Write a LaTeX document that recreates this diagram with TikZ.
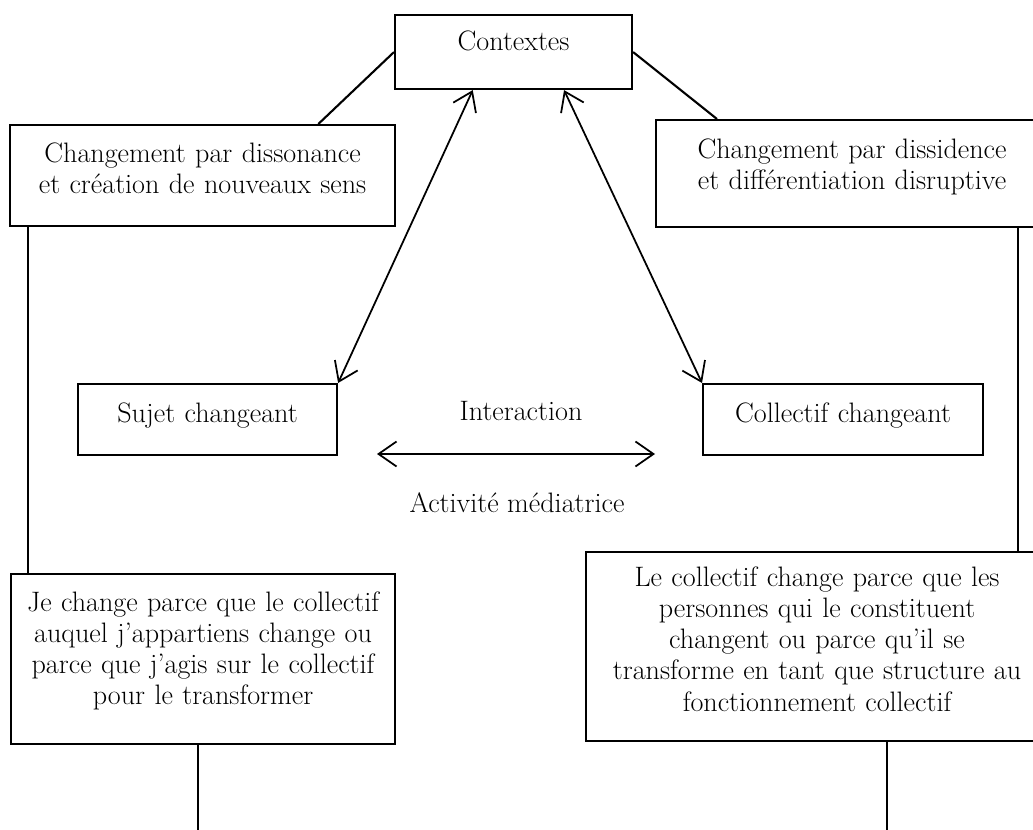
\documentclass[tikz,border=0pt]{standalone}
\usepackage{tikz}
\usetikzlibrary{arrows.meta}

\begin{document}
\begin{tikzpicture}[box/.style={draw, line width=1.2pt, rectangle, inner sep=0pt, align=center, anchor=north west, font=\fontsize{16}{17.8}\selectfont}, lbl/.style={anchor=base, font=\fontsize{16}{17.8}\selectfont}, link/.style={line width=1.2pt}, twoway/.style={line width=1pt, {Straight Barb[length=3.6mm, width=5mm]}-{Straight Barb[length=3.6mm, width=5mm]}}]
  \useasboundingbox (0, 0) rectangle (20.66, -16.6);
  \node[box, text width=4.74cm, text height=0.70cm, text depth=0.78cm] (ctx) at (7.88, -0.28) {Contextes};
  \node[box, text width=7.70cm, text height=0.74cm, text depth=1.28cm] (dis) at (0.18, -2.48) {Changement par dissonance\\et création de nouveaux sens};
  \node[box, text width=7.84cm, text height=0.76cm, text depth=1.38cm] (dss) at (13.10, -2.38) {Changement par dissidence\\et différentiation disruptive};
  \node[box, text width=5.18cm, text height=0.76cm, text depth=0.66cm] (suj) at (1.54, -7.66) {Sujet changeant};
  \node[box, text width=5.60cm, text height=0.76cm, text depth=0.66cm] (col) at (14.04, -7.66) {Collectif changeant};
  \node[lbl] (inter) at (10.42, -8.40) {Interaction};
  \node[lbl] (activ) at (10.34, -10.24) {Activité médiatrice};
  \node[box, text width=7.68cm, text height=0.74cm, text depth=2.66cm] (je) at (0.20, -11.46) {Je change parce que le collectif\\auquel j’appartiens change ou\\parce que j’agis sur le collectif\\pour le transformer};
  \node[box, text width=9.24cm, text height=0.68cm, text depth=3.10cm] (lec) at (11.70, -11.02) {Le collectif change parce que les\\personnes qui le constituent\\changent ou parce qu’il se\\transforme en tant que structure au\\fonctionnement collectif};
  \coordinate (il) at (7.54, -9.08);
  \coordinate (ir) at (13.10, -9.08);
  \coordinate (jeend) at ([xshift=-0.1cm]je.south |- 0, -16.6);
  \coordinate (lecend) at ([xshift=1.4cm]lec.south |- 0, -16.6);
  \draw[link] (ctx.west) -- (dis.24);
  \draw[link] (ctx.east) -- (dss.158);
  \draw[twoway] (ctx.223) -- (suj.north east);
  \draw[twoway] (ctx.-37) -- (col.north west);
  \draw[twoway] (il) -- (ir);
  \draw[link] ([xshift=0.38cm]dis.south west) -- ([xshift=0.38cm]dis.south west |- je.north);
  \draw[link] ([xshift=-0.62cm]dss.south east) -- ([xshift=-0.62cm]dss.south east |- lec.north);
  \draw[link] ([xshift=-0.1cm]je.south) -- (jeend);
  \draw[link] ([xshift=1.4cm]lec.south) -- (lecend);
\end{tikzpicture}
\end{document}
